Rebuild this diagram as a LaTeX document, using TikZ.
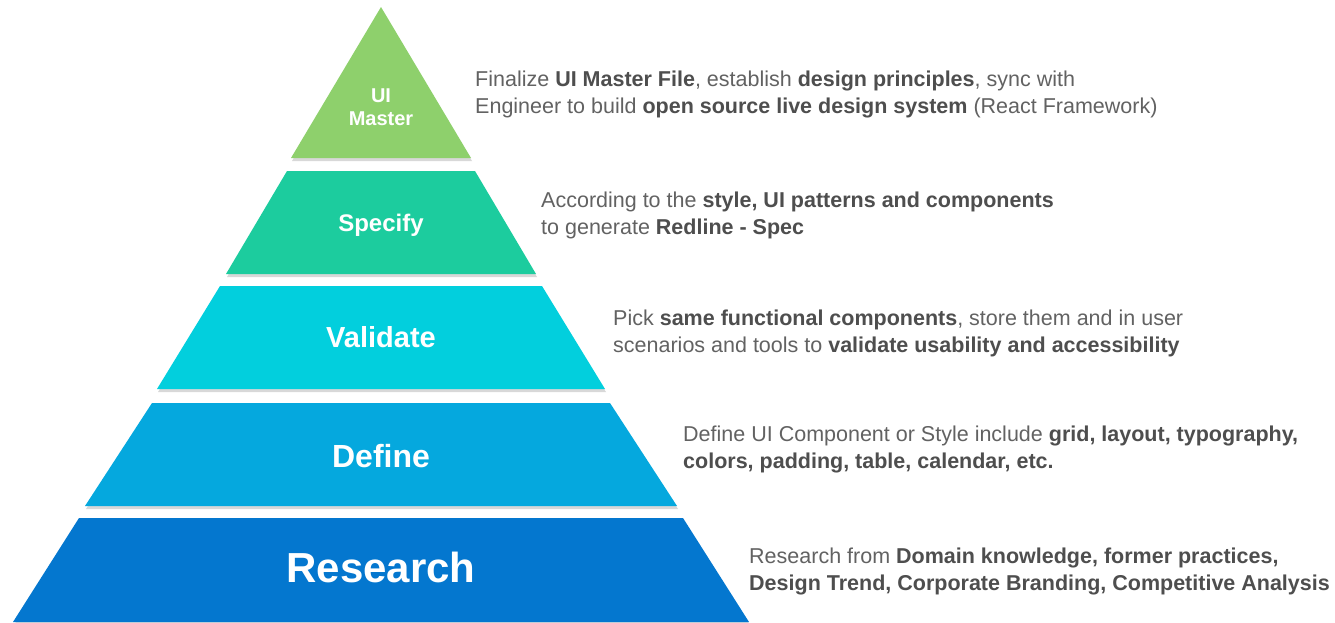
\documentclass[tikz,border=0pt]{standalone}
\usepackage{fontspec}
\setmainfont{Liberation Sans}
\usetikzlibrary{shadows}
\definecolor{cMaster}{RGB}{142,208,108}
\definecolor{cSpecify}{RGB}{28,204,158}
\definecolor{cValidate}{RGB}{2,207,221}
\definecolor{cDefine}{RGB}{5,168,222}
\definecolor{cResearch}{RGB}{4,119,207}
\definecolor{descgray}{RGB}{98,98,98}
\definecolor{boldgray}{RGB}{78,78,78}
\newcommand\bt[1]{\textbf{\color{boldgray}#1}}
\begin{document}
\begin{tikzpicture}[x=1pt,y=-1pt,
  layer/.style={draw=none, drop shadow={shadow xshift=1pt, shadow yshift=-3pt, opacity=0.3}},
  lbl/.style={text=white, inner sep=0, anchor=base},
  desc/.style={text=descgray, align=left, anchor=base west, inner sep=0, font=\fontsize{21.5}{27}\selectfont}]
\useasboundingbox (0,0) rectangle (1335,622);
\fill[white] (0,0) rectangle (1335,622);
\path[layer, fill=cMaster] (381,7) -- (471,158) -- (291,158) -- cycle;
\path[layer, fill=cSpecify] (287,171) -- (475,171) -- (536,274) -- (226,274) -- cycle;
\path[layer, fill=cValidate] (220,286) -- (542,286) -- (605,389) -- (157,389) -- cycle;
\path[layer, fill=cDefine] (152,403) -- (610,403) -- (677,506) -- (85,506) -- cycle;
\path[layer, fill=cResearch] (79,518) -- (683,518) -- (749,622) -- (13,622) -- cycle;
\node[lbl, font=\bfseries\fontsize{20}{23}\selectfont, align=center] (master) at (381,125) {UI\\Master};
\node[lbl, font=\bfseries\fontsize{24}{28}\selectfont] (specify) at (381,231) {Specify};
\node[lbl, font=\bfseries\fontsize{29}{34}\selectfont] (validate) at (381,347) {Validate};
\node[lbl, font=\bfseries\fontsize{32}{38}\selectfont] (define) at (381,467) {Define};
\node[lbl, font=\bfseries\fontsize{42}{50}\selectfont] (research) at (381,582) {Research};
\node[desc] (t1) at (475,113) {Finalize \bt{UI Master File}, establish \bt{design principles}, sync with\\Engineer to build \bt{open source live design system} (React Framework)};
\node[desc] (t2) at (541,234) {According to the \bt{style, UI patterns and components}\\to generate \bt{Redline - Spec}};
\node[desc] (t3) at (613,352) {Pick \bt{same functional components}, store them and in user\\scenarios and tools to \bt{validate usability and accessibility}};
\node[desc] (t4) at (683,468) {Define UI Component or Style include \bt{grid, layout, typography,}\\\bt{colors, padding, table, calendar, etc.}};
\node[desc] (t5) at (749,590) {Research from \bt{Domain knowledge, former practices,}\\\bt{Design Trend, Corporate Branding, Competitive Analysis}};
\end{tikzpicture}
\end{document}
